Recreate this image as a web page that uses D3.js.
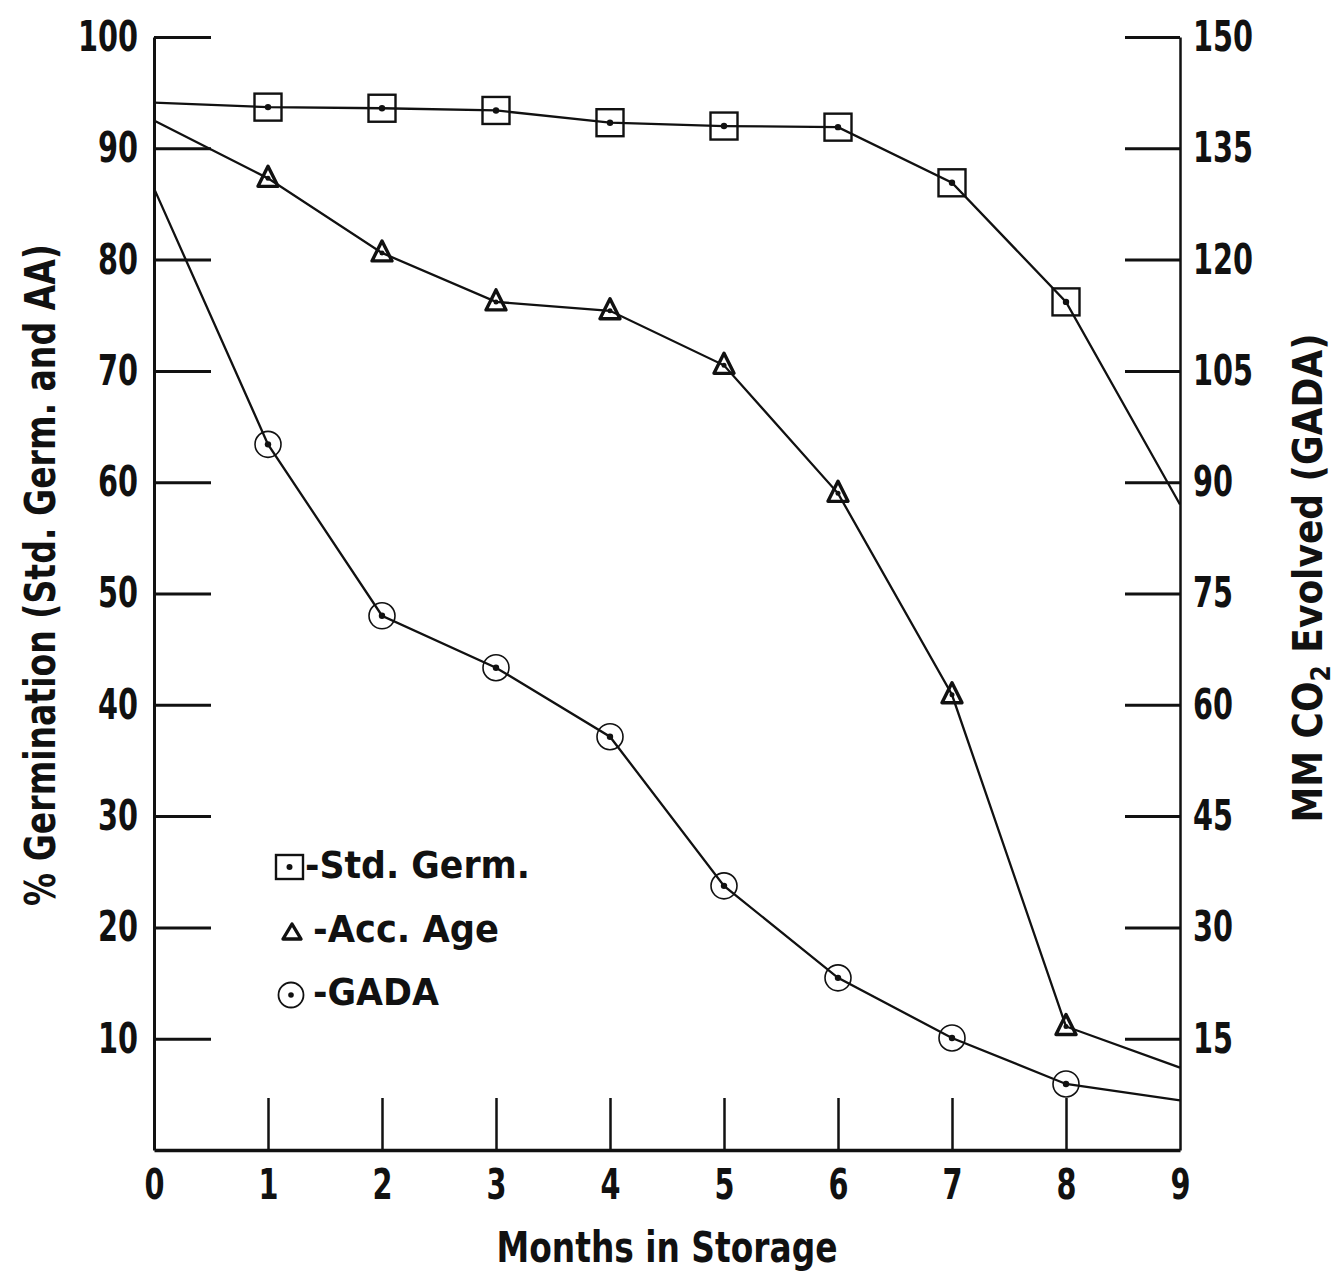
<!DOCTYPE html>
<html>
<head>
<meta charset="utf-8">
<script src="https://cdn.jsdelivr.net/npm/d3@7/dist/d3.min.js"></script>
<style>
  html, body { margin: 0; padding: 0; background: #ffffff; }
  svg text { font-family: "Liberation Sans Narrow", "Arial Narrow", "DejaVu Sans Condensed", sans-serif; font-weight: bold; fill: #111; }
</style>
</head>
<body>
<svg id="chart" width="1341" height="1272"></svg>
<script>
// ---- data ----
const months = [0, 1, 2, 3, 4, 5, 6, 7, 8, 9];
const markerMonths = [1, 2, 3, 4, 5, 6, 7, 8];
// % germination, left axis
const stdGerm = [94.1, 93.7, 93.6, 93.4, 92.3, 92.0, 91.9, 86.9, 76.2, 58.0];
const accAge  = [92.5, 87.3, 80.6, 76.2, 75.4, 70.5, 59.0, 40.9, 11.1, 7.4];
// mM CO2 evolved, right axis
const gada    = [129.6, 95.1, 72.0, 65.0, 55.7, 35.6, 23.2, 15.1, 8.9, 6.7];

const xTicks = [0, 1, 2, 3, 4, 5, 6, 7, 8, 9];
const leftTicks = [10, 20, 30, 40, 50, 60, 70, 80, 90, 100];
const rightTicks = [15, 30, 45, 60, 75, 90, 105, 120, 135, 150];
const legendLabels = ["-Std.  Germ.", "-Acc.  Age", "-GADA"];

// ---- layout ----
const svg = d3.select("#chart");
const X0 = 154, X1 = 1180, Y0 = 1150, Y1 = 37;
const x = d3.scaleLinear().domain([0, 9]).range([X0, X1]);
const yL = d3.scaleLinear().domain([0, 100]).range([Y0, Y1]);
const yR = d3.scaleLinear().domain([0, 150]).range([Y0, Y1]);
const ink = "#111";
const digitW = 20;

function styleTickText(sel) {
  sel.attr("font-size", 42).attr("fill", ink)
    .attr("textLength", d => String(d).length * digitW)
    .attr("lengthAdjust", "spacingAndGlyphs");
}

// left axis
const gL = svg.append("g").attr("transform", `translate(${X0},0)`)
  .call(d3.axisLeft(yL).tickValues(leftTicks).tickSizeInner(-57).tickSizeOuter(0).tickPadding(16));
gL.select(".domain").attr("stroke", ink).attr("stroke-width", 3);
gL.selectAll(".tick line").attr("stroke", ink).attr("stroke-width", 3);
gL.selectAll(".tick text").call(styleTickText);

// right axis
const gR = svg.append("g").attr("transform", `translate(${X1},0)`)
  .call(d3.axisRight(yR).tickValues(rightTicks).tickSizeInner(-55).tickSizeOuter(0).tickPadding(13));
gR.select(".domain").attr("stroke", ink).attr("stroke-width", 2.5);
gR.selectAll(".tick line").attr("stroke", ink).attr("stroke-width", 3);
gR.selectAll(".tick text").call(styleTickText);

// bottom axis
const gB = svg.append("g").attr("transform", `translate(0,${Y0})`)
  .call(d3.axisBottom(x).tickValues(xTicks).tickSizeInner(-52).tickSizeOuter(0).tickPadding(19));
gB.select(".domain").attr("stroke", ink).attr("stroke-width", 3.5);
gB.selectAll(".tick line").attr("stroke", ink).attr("stroke-width", 2.5)
  .attr("y2", d => (d === 0 || d === 9) ? 0 : -52);
gB.selectAll(".tick text").call(styleTickText);

svg.selectAll(".tick text")
  .style("font-family", "\"Liberation Sans Narrow\", \"Arial Narrow\", \"DejaVu Sans Condensed\", sans-serif")
  .style("font-weight", "bold");

// axis titles
svg.append("text").attr("x", (X0 + X1) / 2).attr("y", 1262).attr("text-anchor", "middle")
  .attr("font-size", 42).attr("textLength", 341).attr("lengthAdjust", "spacingAndGlyphs")
  .text("Months in Storage");

svg.append("text").attr("transform", "translate(55,575) rotate(-90)").attr("text-anchor", "middle")
  .attr("font-size", 42).attr("textLength", 662).attr("lengthAdjust", "spacingAndGlyphs")
  .text("% Germination (Std. Germ. and AA)");

const rt = svg.append("text").attr("transform", "translate(1322,578) rotate(-90)").attr("text-anchor", "middle")
  .attr("font-size", 40);
rt.append("tspan").text("MM  CO");
rt.append("tspan").attr("font-size", 26).attr("dy", 8).text("2");
rt.append("tspan").attr("dy", -8).text("  Evolved  (GADA)");

// ---- series lines ----
const lineL = d3.line().x((d, i) => x(months[i])).y(d => yL(d));
const lineR = d3.line().x((d, i) => x(months[i])).y(d => yR(d));
svg.append("path").datum(stdGerm).attr("d", lineL).attr("fill", "none").attr("stroke", ink).attr("stroke-width", 2.3);
svg.append("path").datum(accAge).attr("d", lineL).attr("fill", "none").attr("stroke", ink).attr("stroke-width", 2.3);
svg.append("path").datum(gada).attr("d", lineR).attr("fill", "none").attr("stroke", ink).attr("stroke-width", 2.3);

// ---- markers ----
const sq = 27;
svg.append("g").selectAll("g").data(markerMonths).join("g")
  .attr("transform", m => `translate(${x(m)},${yL(stdGerm[m])})`)
  .each(function () {
    const g = d3.select(this);
    g.append("rect").attr("x", -sq / 2).attr("y", -sq / 2).attr("width", sq).attr("height", sq)
      .attr("fill", "none").attr("stroke", ink).attr("stroke-width", 2.4);
    g.append("circle").attr("r", 3.2).attr("fill", ink);
  });

const triPath = "M0,-12 L10,8 L-10,8 Z";
svg.append("g").selectAll("g").data(markerMonths).join("g")
  .attr("transform", m => `translate(${x(m)},${yL(accAge[m])})`)
  .each(function () {
    const g = d3.select(this);
    g.append("path").attr("d", triPath).attr("fill", "none").attr("stroke", ink).attr("stroke-width", 3.4)
      .attr("stroke-linejoin", "round");
    g.append("circle").attr("r", 2.5).attr("fill", ink);
  });

svg.append("g").selectAll("g").data(markerMonths).join("g")
  .attr("transform", m => `translate(${x(m)},${yR(gada[m])})`)
  .each(function () {
    const g = d3.select(this);
    g.append("circle").attr("r", 13).attr("fill", "none").attr("stroke", ink).attr("stroke-width", 1.6);
    g.append("circle").attr("r", 3.2).attr("fill", ink);
  });

// ---- legend ----
const legY = [866, 930, 993];
const legW = [225, 186, 126];
const leg = svg.append("g");
// square
leg.append("rect").attr("x", 276).attr("y", legY[0] - 11).attr("width", 27).attr("height", 24)
  .attr("fill", "none").attr("stroke", ink).attr("stroke-width", 2.4);
leg.append("circle").attr("cx", 289.5).attr("cy", legY[0] + 1).attr("r", 3).attr("fill", ink);
// triangle
leg.append("path").attr("transform", `translate(292,${legY[1] + 2})`).attr("d", "M0,-8 L9,7 L-9,7 Z")
  .attr("fill", "none").attr("stroke", ink).attr("stroke-width", 3.4).attr("stroke-linejoin", "round");
// circle
leg.append("circle").attr("cx", 291).attr("cy", legY[2] + 2).attr("r", 12.5).attr("fill", "none")
  .attr("stroke", ink).attr("stroke-width", 1.8);
leg.append("circle").attr("cx", 291).attr("cy", legY[2] + 2).attr("r", 2.8).attr("fill", ink);

const legX = [305, 313, 313];
legendLabels.forEach((t, i) => {
  leg.append("text").attr("x", legX[i]).attr("y", legY[i] + 12)
    .attr("font-size", 38).attr("textLength", legW[i]).attr("lengthAdjust", "spacingAndGlyphs")
    .text(t);
});
</script>
</body>
</html>
